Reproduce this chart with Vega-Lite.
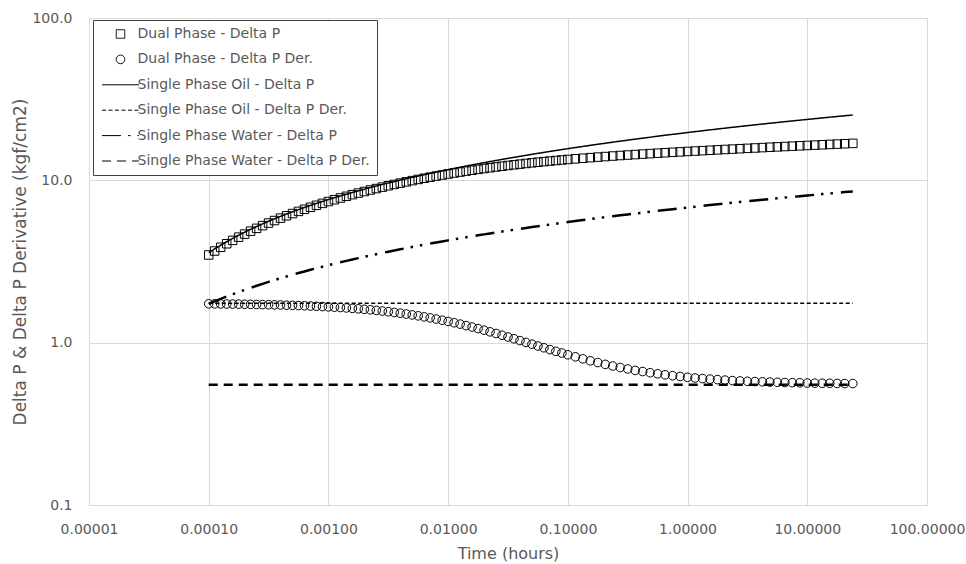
{
  "$schema": "https://vega.github.io/schema/vega-lite/v6.json",
  "width": 838,
  "height": 487,
  "autosize": "none",
  "padding": {"left": 89, "top": 18, "right": 39, "bottom": 59},
  "background": "white",
  "config": {
    "view": {"stroke": null},
    "font": "DejaVu Sans",
    "axis": {
      "grid": true,
      "gridColor": "#d9d9d9",
      "gridWidth": 1,
      "domainColor": "#d9d9d9",
      "ticks": false,
      "labelColor": "#595959",
      "titleColor": "#595959",
      "labelFont": "DejaVu Sans",
      "titleFont": "DejaVu Sans",
      "labelFontSize": 14,
      "titleFontSize": 16,
      "titleFontWeight": "normal",
      "labelFlush": false,
      "labelOverlap": false,
      "labelBound": false
    },
    "legend": {
      "padding": 7,
      "strokeColor": "#404040",
      "fillColor": "white",
      "labelFont": "DejaVu Sans",
      "labelFontSize": 14,
      "labelColor": "#595959",
      "labelLimit": 400,
      "labelOffset": 10,
      "symbolOffset": 13.5,
      "symbolSize": 100,
      "symbolStrokeWidth": 1,
      "rowPadding": 11.4
    }
  },
  "datasets": {
    "main": [
      {"t": 0.0001, "dp": 3.469, "dpd": 1.735, "oil": 3.582, "wat": 1.734},
      {"t": 0.0001122, "dp": 3.669, "dpd": 1.734, "oil": 3.783, "wat": 1.797},
      {"t": 0.0001259, "dp": 3.868, "dpd": 1.732, "oil": 3.985, "wat": 1.861},
      {"t": 0.0001413, "dp": 4.068, "dpd": 1.730, "oil": 4.186, "wat": 1.924},
      {"t": 0.0001585, "dp": 4.267, "dpd": 1.729, "oil": 4.388, "wat": 1.987},
      {"t": 0.0001778, "dp": 4.466, "dpd": 1.727, "oil": 4.589, "wat": 2.051},
      {"t": 0.0001995, "dp": 4.665, "dpd": 1.724, "oil": 4.791, "wat": 2.114},
      {"t": 0.0002239, "dp": 4.863, "dpd": 1.722, "oil": 4.992, "wat": 2.177},
      {"t": 0.0002512, "dp": 5.061, "dpd": 1.719, "oil": 5.194, "wat": 2.241},
      {"t": 0.0002818, "dp": 5.259, "dpd": 1.716, "oil": 5.395, "wat": 2.304},
      {"t": 0.0003162, "dp": 5.456, "dpd": 1.713, "oil": 5.597, "wat": 2.367},
      {"t": 0.0003548, "dp": 5.653, "dpd": 1.710, "oil": 5.798, "wat": 2.431},
      {"t": 0.0003981, "dp": 5.850, "dpd": 1.706, "oil": 6.000, "wat": 2.494},
      {"t": 0.0004467, "dp": 6.046, "dpd": 1.702, "oil": 6.201, "wat": 2.557},
      {"t": 0.0005012, "dp": 6.242, "dpd": 1.698, "oil": 6.403, "wat": 2.620},
      {"t": 0.0005623, "dp": 6.437, "dpd": 1.693, "oil": 6.604, "wat": 2.684},
      {"t": 0.000631, "dp": 6.632, "dpd": 1.688, "oil": 6.806, "wat": 2.747},
      {"t": 0.0007079, "dp": 6.826, "dpd": 1.682, "oil": 7.007, "wat": 2.810},
      {"t": 0.0007943, "dp": 7.019, "dpd": 1.676, "oil": 7.209, "wat": 2.874},
      {"t": 0.0008913, "dp": 7.211, "dpd": 1.669, "oil": 7.410, "wat": 2.937},
      {"t": 0.001, "dp": 7.403, "dpd": 1.662, "oil": 7.612, "wat": 3.000},
      {"t": 0.001122, "dp": 7.594, "dpd": 1.654, "oil": 7.813, "wat": 3.064},
      {"t": 0.001259, "dp": 7.784, "dpd": 1.646, "oil": 8.014, "wat": 3.127},
      {"t": 0.001413, "dp": 7.973, "dpd": 1.637, "oil": 8.216, "wat": 3.190},
      {"t": 0.001585, "dp": 8.161, "dpd": 1.627, "oil": 8.417, "wat": 3.254},
      {"t": 0.001778, "dp": 8.348, "dpd": 1.616, "oil": 8.619, "wat": 3.317},
      {"t": 0.001995, "dp": 8.533, "dpd": 1.605, "oil": 8.820, "wat": 3.380},
      {"t": 0.002239, "dp": 8.717, "dpd": 1.593, "oil": 9.022, "wat": 3.444},
      {"t": 0.002512, "dp": 8.900, "dpd": 1.580, "oil": 9.223, "wat": 3.507},
      {"t": 0.002818, "dp": 9.081, "dpd": 1.566, "oil": 9.425, "wat": 3.570},
      {"t": 0.003162, "dp": 9.260, "dpd": 1.551, "oil": 9.626, "wat": 3.634},
      {"t": 0.003548, "dp": 9.438, "dpd": 1.535, "oil": 9.828, "wat": 3.697},
      {"t": 0.003981, "dp": 9.614, "dpd": 1.519, "oil": 10.029, "wat": 3.760},
      {"t": 0.004467, "dp": 9.788, "dpd": 1.501, "oil": 10.231, "wat": 3.824},
      {"t": 0.005012, "dp": 9.959, "dpd": 1.482, "oil": 10.432, "wat": 3.887},
      {"t": 0.005623, "dp": 10.129, "dpd": 1.463, "oil": 10.634, "wat": 3.950},
      {"t": 0.00631, "dp": 10.296, "dpd": 1.442, "oil": 10.835, "wat": 4.014},
      {"t": 0.007079, "dp": 10.461, "dpd": 1.421, "oil": 11.037, "wat": 4.077},
      {"t": 0.007943, "dp": 10.623, "dpd": 1.398, "oil": 11.238, "wat": 4.140},
      {"t": 0.008913, "dp": 10.783, "dpd": 1.375, "oil": 11.440, "wat": 4.204},
      {"t": 0.01, "dp": 10.940, "dpd": 1.351, "oil": 11.641, "wat": 4.267},
      {"t": 0.01122, "dp": 11.094, "dpd": 1.326, "oil": 11.843, "wat": 4.330},
      {"t": 0.01259, "dp": 11.245, "dpd": 1.301, "oil": 12.044, "wat": 4.393},
      {"t": 0.01413, "dp": 11.393, "dpd": 1.274, "oil": 12.245, "wat": 4.457},
      {"t": 0.01585, "dp": 11.539, "dpd": 1.248, "oil": 12.447, "wat": 4.520},
      {"t": 0.01778, "dp": 11.681, "dpd": 1.221, "oil": 12.648, "wat": 4.583},
      {"t": 0.01995, "dp": 11.820, "dpd": 1.194, "oil": 12.850, "wat": 4.647},
      {"t": 0.02239, "dp": 11.955, "dpd": 1.166, "oil": 13.051, "wat": 4.710},
      {"t": 0.02512, "dp": 12.088, "dpd": 1.139, "oil": 13.253, "wat": 4.773},
      {"t": 0.02818, "dp": 12.218, "dpd": 1.111, "oil": 13.454, "wat": 4.837},
      {"t": 0.03162, "dp": 12.344, "dpd": 1.084, "oil": 13.656, "wat": 4.900},
      {"t": 0.03548, "dp": 12.467, "dpd": 1.057, "oil": 13.857, "wat": 4.963},
      {"t": 0.03981, "dp": 12.587, "dpd": 1.030, "oil": 14.059, "wat": 5.027},
      {"t": 0.04467, "dp": 12.704, "dpd": 1.004, "oil": 14.260, "wat": 5.090},
      {"t": 0.05012, "dp": 12.818, "dpd": 0.979, "oil": 14.462, "wat": 5.153},
      {"t": 0.05623, "dp": 12.930, "dpd": 0.954, "oil": 14.663, "wat": 5.217},
      {"t": 0.0631, "dp": 13.038, "dpd": 0.930, "oil": 14.865, "wat": 5.280},
      {"t": 0.07079, "dp": 13.144, "dpd": 0.906, "oil": 15.066, "wat": 5.343},
      {"t": 0.07943, "dp": 13.247, "dpd": 0.884, "oil": 15.268, "wat": 5.407},
      {"t": 0.08913, "dp": 13.347, "dpd": 0.863, "oil": 15.469, "wat": 5.470},
      {"t": 0.1, "dp": 13.445, "dpd": 0.842, "oil": 15.671, "wat": 5.533},
      {"t": 0.1155, "dp": 13.565, "dpd": 0.818, "oil": 15.922, "wat": 5.612},
      {"t": 0.1334, "dp": 13.681, "dpd": 0.795, "oil": 16.174, "wat": 5.692},
      {"t": 0.154, "dp": 13.794, "dpd": 0.773, "oil": 16.426, "wat": 5.771},
      {"t": 0.1778, "dp": 13.903, "dpd": 0.754, "oil": 16.678, "wat": 5.850},
      {"t": 0.2054, "dp": 14.011, "dpd": 0.735, "oil": 16.930, "wat": 5.929},
      {"t": 0.2371, "dp": 14.115, "dpd": 0.718, "oil": 17.182, "wat": 6.008},
      {"t": 0.2738, "dp": 14.217, "dpd": 0.703, "oil": 17.433, "wat": 6.087},
      {"t": 0.3162, "dp": 14.317, "dpd": 0.689, "oil": 17.685, "wat": 6.166},
      {"t": 0.3652, "dp": 14.416, "dpd": 0.675, "oil": 17.937, "wat": 6.246},
      {"t": 0.4217, "dp": 14.512, "dpd": 0.664, "oil": 18.189, "wat": 6.325},
      {"t": 0.487, "dp": 14.607, "dpd": 0.653, "oil": 18.441, "wat": 6.404},
      {"t": 0.5623, "dp": 14.700, "dpd": 0.643, "oil": 18.693, "wat": 6.483},
      {"t": 0.6494, "dp": 14.792, "dpd": 0.634, "oil": 18.945, "wat": 6.562},
      {"t": 0.7499, "dp": 14.882, "dpd": 0.626, "oil": 19.196, "wat": 6.641},
      {"t": 0.866, "dp": 14.972, "dpd": 0.619, "oil": 19.448, "wat": 6.721},
      {"t": 1, "dp": 15.060, "dpd": 0.612, "oil": 19.700, "wat": 6.800},
      {"t": 1.155, "dp": 15.148, "dpd": 0.606, "oil": 19.952, "wat": 6.879},
      {"t": 1.334, "dp": 15.235, "dpd": 0.601, "oil": 20.204, "wat": 6.958},
      {"t": 1.54, "dp": 15.321, "dpd": 0.596, "oil": 20.456, "wat": 7.037},
      {"t": 1.778, "dp": 15.406, "dpd": 0.592, "oil": 20.707, "wat": 7.116},
      {"t": 2.054, "dp": 15.491, "dpd": 0.588, "oil": 20.959, "wat": 7.195},
      {"t": 2.371, "dp": 15.575, "dpd": 0.584, "oil": 21.211, "wat": 7.275},
      {"t": 2.738, "dp": 15.659, "dpd": 0.581, "oil": 21.463, "wat": 7.354},
      {"t": 3.162, "dp": 15.742, "dpd": 0.578, "oil": 21.715, "wat": 7.433},
      {"t": 3.652, "dp": 15.825, "dpd": 0.576, "oil": 21.967, "wat": 7.512},
      {"t": 4.217, "dp": 15.908, "dpd": 0.574, "oil": 22.219, "wat": 7.591},
      {"t": 4.87, "dp": 15.991, "dpd": 0.572, "oil": 22.470, "wat": 7.670},
      {"t": 5.623, "dp": 16.073, "dpd": 0.570, "oil": 22.722, "wat": 7.750},
      {"t": 6.494, "dp": 16.155, "dpd": 0.568, "oil": 22.974, "wat": 7.829},
      {"t": 7.499, "dp": 16.236, "dpd": 0.567, "oil": 23.226, "wat": 7.908},
      {"t": 8.66, "dp": 16.318, "dpd": 0.566, "oil": 23.478, "wat": 7.987},
      {"t": 10, "dp": 16.399, "dpd": 0.564, "oil": 23.730, "wat": 8.066},
      {"t": 11.55, "dp": 16.480, "dpd": 0.563, "oil": 23.981, "wat": 8.145},
      {"t": 13.34, "dp": 16.561, "dpd": 0.562, "oil": 24.233, "wat": 8.224},
      {"t": 15.4, "dp": 16.642, "dpd": 0.562, "oil": 24.485, "wat": 8.304},
      {"t": 17.78, "dp": 16.723, "dpd": 0.561, "oil": 24.737, "wat": 8.383},
      {"t": 20.54, "dp": 16.803, "dpd": 0.560, "oil": 24.989, "wat": 8.462},
      {"t": 24, "dp": 16.891, "dpd": 0.560, "oil": 25.262, "wat": 8.548}
    ],
    "flat": [
      {"t": 0.0001, "s": "oild", "v": 1.75},
      {"t": 24, "s": "oild", "v": 1.75},
      {"t": 0.0001, "s": "watd", "v": 0.55},
      {"t": 24, "s": "watd", "v": 0.55}
    ]
  },
  "encoding": {
    "x": {
      "field": "t",
      "type": "quantitative",
      "scale": {"type": "log", "domain": [0.00001, 100]},
      "axis": {
        "title": "Time (hours)",
        "values": [0.00001, 0.0001, 0.001, 0.01, 0.1, 1, 10, 100],
        "format": ".5f",
        "labelPadding": 17,
        "titlePadding": 9
      }
    },
    "y": {
      "field": "v",
      "type": "quantitative",
      "scale": {"type": "log", "domain": [0.1, 100]},
      "axis": {
        "title": "Delta P & Delta P Derivative (kgf/cm2)",
        "titleFontSize": 17,
        "values": [0.1, 1, 10, 100],
        "format": ".1f",
        "labelPadding": 17,
        "titlePadding": 2
      }
    }
  },
  "layer": [
    {
      "data": {"name": "flat"},
      "transform": [{"filter": "datum.s === 'oild'"}],
      "mark": {"type": "line", "color": "black", "strokeWidth": 1.5, "strokeCap": "butt"},
      "encoding": {
        "strokeDash": {
          "field": "s",
          "type": "nominal",
          "scale": {
            "domain": ["dp", "dpd", "oil", "oild", "wat", "watd"],
            "range": [[1, 0], [1, 0], [1, 0], [4, 2.5], [19, 7, 2.5, 7, 2.5, 8], [9, 6]]
          },
          "legend": {
            "title": null,
            "orient": "none",
            "legendX": 4,
            "legendY": 2,
            "direction": "vertical",
            "labelExpr": "datum.label === 'dp' ? 'Dual Phase - Delta P' : datum.label === 'dpd' ? 'Dual Phase - Delta P Der.' : datum.label === 'oil' ? 'Single Phase Oil - Delta P' : datum.label === 'oild' ? 'Single Phase Oil - Delta P Der.' : datum.label === 'wat' ? 'Single Phase Water - Delta P' : 'Single Phase Water - Delta P Der.'",
            "encode": {
              "symbols": {
                "update": {
                  "strokeWidth": {"signal": "datum.value === 'wat' || datum.value === 'watd' ? 2.5 : datum.value === 'oil' || datum.value === 'oild' ? 1.5 : 1"},
                  "fill": {"value": "transparent"},
                  "stroke": {"value": "black"},
                  "opacity": {"value": 1}
                }
              }
            }
          }
        }
      }
    },
    {
      "data": {"name": "flat"},
      "transform": [{"filter": "datum.s === 'watd'"}],
      "mark": {"type": "line", "color": "black", "strokeWidth": 2.5, "strokeCap": "butt"},
      "encoding": {
        "strokeDash": {"field": "s", "type": "nominal"}
      }
    },
    {
      "data": {"name": "main"},
      "transform": [{"fold": ["oil"], "as": ["s", "v"]}],
      "mark": {"type": "line", "color": "black", "strokeWidth": 1.5, "strokeCap": "butt"},
      "encoding": {
        "strokeDash": {"field": "s", "type": "nominal"}
      }
    },
    {
      "data": {"name": "main"},
      "transform": [{"fold": ["wat"], "as": ["s", "v"]}],
      "mark": {"type": "line", "color": "black", "strokeWidth": 2.5, "strokeCap": "butt"},
      "encoding": {
        "strokeDash": {"field": "s", "type": "nominal"}
      }
    },
    {
      "data": {"name": "main"},
      "transform": [{"fold": ["dp"], "as": ["s", "v"]}],
      "mark": {"type": "point", "filled": false, "color": "black", "strokeWidth": 1, "size": 100, "opacity": 1},
      "encoding": {
        "shape": {
          "field": "s",
          "type": "nominal",
          "scale": {
            "domain": ["dp", "dpd", "oil", "oild", "wat", "watd"],
            "range": [
              "M-0.85,-0.85H0.85V0.85H-0.85Z",
              "M-0.86,0A0.86,0.86,0,1,0,0.86,0A0.86,0.86,0,1,0,-0.86,0Z",
              "M-3.7,0H3.7",
              "M-3.7,0H3.7",
              "M-3.7,0H3.7",
              "M-3.7,0H3.7"
            ]
          },
          "legend": {
            "title": null,
            "orient": "none",
            "legendX": 4,
            "legendY": 2,
            "direction": "vertical",
            "labelExpr": "datum.label === 'dp' ? 'Dual Phase - Delta P' : datum.label === 'dpd' ? 'Dual Phase - Delta P Der.' : datum.label === 'oil' ? 'Single Phase Oil - Delta P' : datum.label === 'oild' ? 'Single Phase Oil - Delta P Der.' : datum.label === 'wat' ? 'Single Phase Water - Delta P' : 'Single Phase Water - Delta P Der.'",
            "encode": {
              "symbols": {
                "update": {
                  "strokeWidth": {"signal": "datum.value === 'wat' || datum.value === 'watd' ? 2.5 : datum.value === 'oil' || datum.value === 'oild' ? 1.5 : 1"},
                  "fill": {"value": "transparent"},
                  "stroke": {"value": "black"},
                  "opacity": {"value": 1}
                }
              }
            }
          }
        }
      }
    },
    {
      "data": {"name": "main"},
      "transform": [{"fold": ["dpd"], "as": ["s", "v"]}],
      "mark": {"type": "point", "filled": false, "color": "black", "strokeWidth": 1, "size": 100, "opacity": 1},
      "encoding": {
        "shape": {"field": "s", "type": "nominal"}
      }
    }
  ]
}
